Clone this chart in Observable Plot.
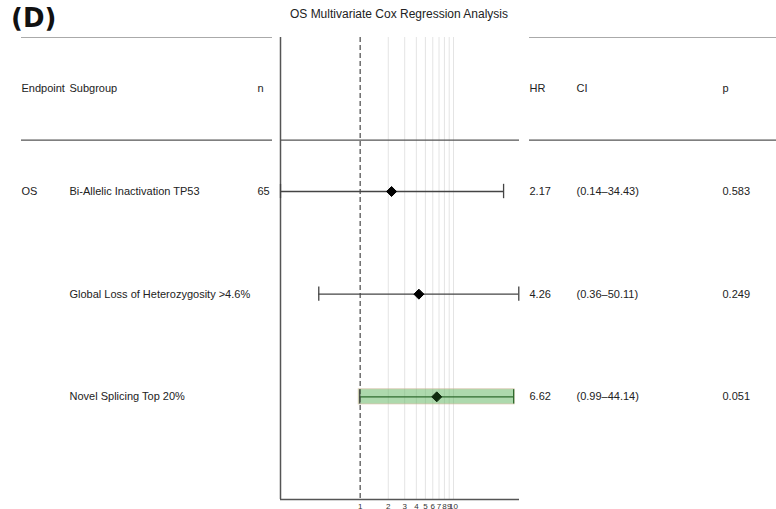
<!DOCTYPE html>
<html>
<head>
<meta charset="utf-8">
<script src="https://cdn.jsdelivr.net/npm/d3@7"></script>
<script src="https://cdn.jsdelivr.net/npm/@observablehq/plot@0.6"></script>
<style>
  body { margin: 0; background: #fff; }
  #wrap { position: relative; width: 776px; height: 509px; overflow: hidden; background: #fff; font-family: "Liberation Sans", Arial, sans-serif; }
  #tag { position: absolute; left: 11px; top: 0px; font: bold 26px "DejaVu Sans", sans-serif; color: #111; line-height: 36px; }
  #title { position: absolute; left: 0; width: 798px; top: 6px; text-align: center; font-size: 12px; color: #222; line-height: 16px; }
  #row { position: absolute; top: 30px; left: 0; display: flex; }
  #row svg { display: block; overflow: visible; }
</style>
</head>
<body>
<div id="wrap">
  <div id="tag"></div>
  <div id="title"></div>
  <div id="row"></div>
</div>
<script>
// ---- data ----
const panelTag = "(D)";
const chartTitle = "OS Multivariate Cox Regression Analysis";
const leftHeaders = ["Endpoint", "Subgroup", "n"];
const rightHeaders = ["HR", "CI", "p"];
const endpoints = ["OS", "", ""];
const subgroups = ["Bi-Allelic Inactivation TP53", "Global Loss of Heterozygosity >4.6%", "Novel Splicing Top 20%"];
const nValues = ["65", "", ""];
const hr = [2.17, 4.26, 6.62];
const ciLow = [0.14, 0.36, 0.99];
const ciHigh = [34.43, 50.11, 44.14];
const pValues = ["0.583", "0.249", "0.051"];
const highlighted = [false, false, true];
const xTicks = [1, 2, 3, 4, 5, 6, 7, 8, 9, 10];
const xDomain = [0.14, 51];

// ---- layout ----
document.getElementById("tag").textContent = panelTag;
document.getElementById("title").textContent = chartTitle;

const H = 479, MT = 7, MB = 10;
const yScale = {domain: [4.5, 0], axis: null};
const headerPos = 0.5, topRule = 0, headerRule = 1;
const rows = subgroups.map((s, i) => ({
  pos: i + 1.5,
  endpoint: endpoints[i], subgroup: s, n: nValues[i],
  hr: hr[i], lo: ciLow[i], hi: ciHigh[i],
  hrText: hr[i].toFixed(2),
  ciText: `(${ciLow[i].toFixed(2)}\u2013${ciHigh[i].toFixed(2)})`,
  p: pValues[i], hl: highlighted[i]
}));
const hdr = [{pos: headerPos}];
const font = {fontFamily: "Liberation Sans, Arial, sans-serif", fontSize: "11px", color: "#222", background: "transparent"};
const cap = 0.07, band = 0.064;

const left = Plot.plot({
  width: 276, height: H, marginLeft: 21, marginRight: 4, marginTop: MT, marginBottom: MB,
  x: {axis: null}, y: yScale, style: font,
  marks: [
    Plot.ruleY([topRule], {stroke: "#aaa", strokeWidth: 1.2}),
    Plot.ruleY([headerRule], {stroke: "#555", strokeWidth: 1.2}),
    Plot.text(hdr, {y: "pos", text: () => leftHeaders[0], frameAnchor: "left", textAnchor: "start"}),
    Plot.text(hdr, {y: "pos", text: () => leftHeaders[1], frameAnchor: "left", textAnchor: "start", dx: 48}),
    Plot.text(hdr, {y: "pos", text: () => leftHeaders[2], frameAnchor: "left", textAnchor: "start", dx: 236}),
    Plot.text(rows, {y: "pos", text: "endpoint", frameAnchor: "left", textAnchor: "start"}),
    Plot.text(rows, {y: "pos", text: "subgroup", frameAnchor: "left", textAnchor: "start", dx: 48}),
    Plot.text(rows, {y: "pos", text: "n", frameAnchor: "left", textAnchor: "start", dx: 236})
  ]
});

const forest = Plot.plot({
  width: 250, height: H, marginLeft: 4, marginRight: 7, marginTop: MT, marginBottom: MB,
  x: {type: "log", domain: xDomain, axis: null},
  y: yScale,
  style: {fontFamily: "Liberation Sans, Arial, sans-serif", fontSize: "8px", color: "#333", background: "transparent"},
  marks: [
    Plot.ruleX(xTicks.filter(d => d > 1), {stroke: "#e4e4e4", strokeWidth: 1}),
    Plot.ruleX([1], {stroke: "#555", strokeWidth: 1.3, strokeDasharray: "5,3"}),
    Plot.ruleX([xDomain[0]], {stroke: "#555", strokeWidth: 1.5}),
    Plot.ruleY([yScale.domain[0]], {stroke: "#555", strokeWidth: 1.5}),
    Plot.ruleY([headerRule], {stroke: "#555", strokeWidth: 1.2}),
    Plot.text(xTicks, {x: d => d, text: d => String(d), frameAnchor: "bottom", lineAnchor: "top", dy: 4, fontSize: 8, fill: "#333"}),
    Plot.rect(rows.filter(d => d.hl), {x1: "lo", x2: "hi", y1: d => d.pos - band, y2: d => d.pos + band, fill: "#5cb35c", fillOpacity: 0.5, stroke: "#d9b9a0", strokeOpacity: 0.6, strokeWidth: 1, inset: -1}),
    Plot.ruleY(rows, {x1: "lo", x2: "hi", y: "pos", stroke: d => d.hl ? "#2f6b2f" : "#444", strokeWidth: 1.3}),
    Plot.ruleX(rows, {x: "lo", y1: d => d.pos - cap, y2: d => d.pos + cap, stroke: "#444", strokeWidth: 1.3}),
    Plot.ruleX(rows, {x: "hi", y1: d => d.pos - cap, y2: d => d.pos + cap, stroke: d => d.hl ? "#2f6b2f" : "#444", strokeWidth: 1.3}),
    Plot.dot(rows, {x: "hr", y: "pos", symbol: "diamond2", r: 4.5, fill: d => d.hl ? "#0d2b0d" : "#000", stroke: d => d.hl ? "#0d2b0d" : "#000", strokeWidth: 1})
  ]
});

const right = Plot.plot({
  width: 250, height: H, marginLeft: 3, marginRight: 0, marginTop: MT, marginBottom: MB,
  x: {axis: null}, y: yScale, style: font,
  marks: [
    Plot.ruleY([topRule], {stroke: "#aaa", strokeWidth: 1.2}),
    Plot.ruleY([headerRule], {stroke: "#555", strokeWidth: 1.2}),
    Plot.text(hdr, {y: "pos", text: () => rightHeaders[0], frameAnchor: "left", textAnchor: "start"}),
    Plot.text(hdr, {y: "pos", text: () => rightHeaders[1], frameAnchor: "left", textAnchor: "start", dx: 47}),
    Plot.text(hdr, {y: "pos", text: () => rightHeaders[2], frameAnchor: "left", textAnchor: "start", dx: 193}),
    Plot.text(rows, {y: "pos", text: "hrText", frameAnchor: "left", textAnchor: "start"}),
    Plot.text(rows, {y: "pos", text: "ciText", frameAnchor: "left", textAnchor: "start", dx: 47}),
    Plot.text(rows, {y: "pos", text: "p", frameAnchor: "left", textAnchor: "start", dx: 193})
  ]
});

const rowDiv = document.getElementById("row");
rowDiv.append(left, forest, right);
</script>
</body>
</html>
